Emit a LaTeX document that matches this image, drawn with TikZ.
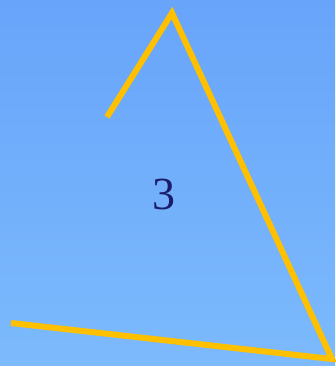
\documentclass[tikz,border=0pt]{standalone}
\usepackage{fontspec}
\setmainfont{Liberation Serif}
\definecolor{bgtop}{HTML}{68A4FA}
\definecolor{bgbot}{HTML}{7CBAFC}
\definecolor{gold}{HTML}{FFC000}
\definecolor{navy}{HTML}{1C1C6C}
\begin{document}
\begin{tikzpicture}[x=1pt,y=-1pt,
  edge/.style={draw=gold,line width=6pt,line join=miter}]
\shade[top color=bgtop,bottom color=bgbot] (0,0) rectangle (335,366);
\useasboundingbox (0,0) rectangle (335,366);
\coordinate (s) at (107,117);
\coordinate (a) at (172,13);
\coordinate (b) at (332,359);
\coordinate (e) at (11,323);
\draw[edge] (s) -- (a) -- (b) -- (e);
\node[text=navy,font=\fontsize{46}{46}\selectfont,inner sep=0pt] (n) at (163.5,194) {3};
\end{tikzpicture}
\end{document}
